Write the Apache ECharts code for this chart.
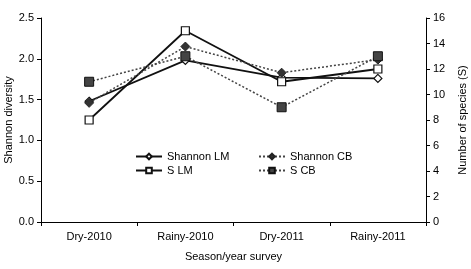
<!DOCTYPE html>
<html><head><meta charset="utf-8">
<script src="https://cdn.jsdelivr.net/npm/echarts@6/dist/echarts.min.js"></script>
<style>html,body{margin:0;padding:0;background:#fff}#c{width:471px;height:269px}</style>
</head><body><div id="c"></div>
<script>
var categories = ['Dry-2010', 'Rainy-2010', 'Dry-2011', 'Rainy-2011'];
var shannonLM = [1.48, 1.98, 1.77, 1.76];
var shannonCB = [1.46, 2.15, 1.83, 1.99];
var sLM = [8, 15, 11, 12];
var sCB = [11, 13, 9, 13];
var leftTitle = 'Shannon diversity';
var rightTitle = 'Number of species (S)';
var xTitle = 'Season/year survey';

var font = 'Liberation Sans, Arial, sans-serif';
var chart = echarts.init(document.getElementById('c'));
var axLine = {show: true, lineStyle: {color: '#000', width: 1}};
chart.setOption({
  animation: false,
  textStyle: {fontFamily: font},
  grid: {left: 41, right: 45, top: 18, bottom: 47, containLabel: false, outerBoundsMode: 'none'},
  legend: [
    {data: ['Shannon LM', 'S LM'], orient: 'vertical', left: 130, top: 146, itemGap: 3,
     itemWidth: 26, itemHeight: 7, textStyle: {fontSize: 11, color: '#000', fontFamily: font}},
    {data: ['Shannon CB', 'S CB'], orient: 'vertical', left: 253, top: 146, itemGap: 3,
     itemWidth: 26, itemHeight: 7, textStyle: {fontSize: 11, color: '#000', fontFamily: font}}
  ],
  xAxis: {
    type: 'category', data: categories, boundaryGap: true,
    axisLine: axLine, axisTick: {show: true, length: 4, lineStyle: {color: '#000'}},
    axisLabel: {fontSize: 11, color: '#000', margin: 9, fontFamily: font},
    name: xTitle, nameLocation: 'middle', nameGap: 29, nameMoveOverlap: false,
    nameTextStyle: {fontSize: 11, color: '#000', fontFamily: font},
    splitLine: {show: false}
  },
  yAxis: [
    {type: 'value', min: 0, max: 2.5, interval: 0.5, position: 'left',
     axisLine: axLine, axisTick: {show: true, length: 4, lineStyle: {color: '#000'}},
     axisLabel: {fontSize: 11, color: '#000', margin: 7, formatter: function(v){return v.toFixed(1);}, fontFamily: font},
     splitLine: {show: false},
     name: leftTitle, nameLocation: 'middle', nameGap: 27, nameRotate: 90, nameMoveOverlap: false,
     nameTextStyle: {fontSize: 11, color: '#000', fontFamily: font}},
    {type: 'value', min: 0, max: 16, interval: 2, position: 'right',
     axisLine: axLine, axisTick: {show: true, length: 4, lineStyle: {color: '#000'}},
     axisLabel: {fontSize: 11, color: '#000', margin: 7, fontFamily: font},
     splitLine: {show: false},
     name: rightTitle, nameLocation: 'middle', nameGap: 31, nameRotate: 90, nameMoveOverlap: false,
     nameTextStyle: {fontSize: 11, color: '#000', fontFamily: font}}
  ],
  series: [
    {name: 'Shannon LM', type: 'line', yAxisIndex: 0, data: shannonLM,
     symbol: 'diamond', symbolSize: 8, showAllSymbol: true,
     lineStyle: {color: '#111', width: 1.8, type: 'solid'},
     itemStyle: {color: '#fff', borderColor: '#111', borderWidth: 1.2}, z: 3},
    {name: 'S LM', type: 'line', yAxisIndex: 1, data: sLM,
     symbol: 'rect', symbolSize: 8,
     lineStyle: {color: '#111', width: 1.8, type: 'solid'},
     itemStyle: {color: '#fff', borderColor: '#111', borderWidth: 1.2}, z: 3},
    {name: 'Shannon CB', type: 'line', yAxisIndex: 0, data: shannonCB,
     symbol: 'diamond', symbolSize: 9,
     lineStyle: {color: '#444', width: 1.5, type: [2, 2]},
     itemStyle: {color: '#333', borderColor: '#222', borderWidth: 1}, z: 4},
    {name: 'S CB', type: 'line', yAxisIndex: 1, data: sCB,
     symbol: 'rect', symbolSize: 9,
     lineStyle: {color: '#444', width: 1.5, type: [2, 2]},
     itemStyle: {color: '#444', borderColor: '#111', borderWidth: 1}, z: 4}
  ]
});
</script></body></html>
